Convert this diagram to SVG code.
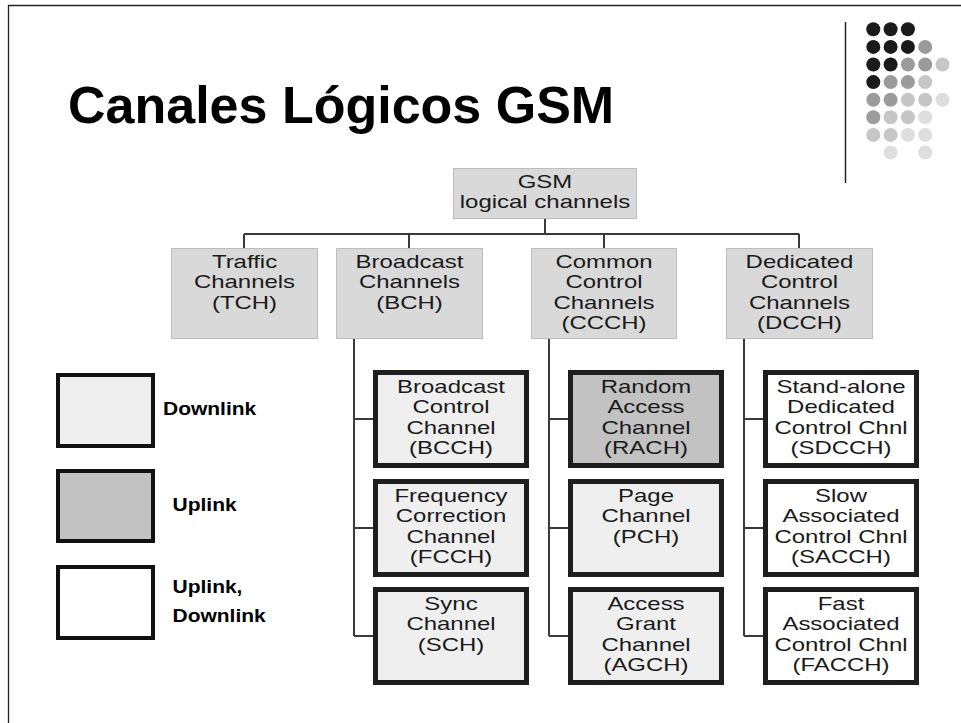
<svg xmlns="http://www.w3.org/2000/svg" width="961" height="723" viewBox="0 0 961 723">
<style>
  .bg{fill:#ffffff}
  .frame{stroke:#222;stroke-width:1.3;fill:none}
  .title{font-family:"Liberation Sans",Arial,sans-serif;font-weight:bold;font-size:52px;fill:#000}
  .l1{fill:#d9d9d9;stroke:#bdbdbd;stroke-width:1}
  .t{font-family:"Liberation Sans",Arial,sans-serif;font-size:17.5px;fill:#1a1a1a;text-anchor:middle}
  .leg{font-family:"Liberation Sans",Arial,sans-serif;font-size:17.5px;font-weight:bold;fill:#000}
  .b{stroke:#1e1e1e;stroke-width:5}
  .lb{stroke:#111;stroke-width:4}
  .down{fill:#efefef}
  .up{fill:#c2c2c2}
  .both{fill:#ffffff}
  .conn{stroke:#3a3a3a;stroke-width:2;fill:none}
  .d1{fill:#1a1a1a}.d2{fill:#9b9b9b}.d3{fill:#c6c6c6}.d4{fill:#dedede}
</style>
<rect class="bg" x="0" y="0" width="961" height="723"/>
<path class="frame" d="M8.5,723 V5.5 H961"/>
<line x1="845.5" y1="22" x2="845.5" y2="183" stroke="#222" stroke-width="1.5"/>
<g id="dots">
  <circle class="d1" cx="873.3" cy="29.3" r="7"/><circle class="d1" cx="890.6" cy="29.3" r="7"/><circle class="d1" cx="907.9" cy="29.3" r="7"/>
  <circle class="d1" cx="873.3" cy="46.9" r="7"/><circle class="d1" cx="890.6" cy="46.9" r="7"/><circle class="d1" cx="907.9" cy="46.9" r="7"/><circle class="d2" cx="925.2" cy="46.9" r="7"/>
  <circle class="d1" cx="873.3" cy="64.5" r="7"/><circle class="d1" cx="890.6" cy="64.5" r="7"/><circle class="d2" cx="907.9" cy="64.5" r="7"/><circle class="d2" cx="925.2" cy="64.5" r="7"/><circle class="d3" cx="942.5" cy="64.5" r="7"/>
  <circle class="d1" cx="873.3" cy="82.1" r="7"/><circle class="d2" cx="890.6" cy="82.1" r="7"/><circle class="d2" cx="907.9" cy="82.1" r="7"/><circle class="d3" cx="925.2" cy="82.1" r="7"/>
  <circle class="d2" cx="873.3" cy="99.7" r="7"/><circle class="d2" cx="890.6" cy="99.7" r="7"/><circle class="d3" cx="907.9" cy="99.7" r="7"/><circle class="d3" cx="925.2" cy="99.7" r="7"/><circle class="d4" cx="942.5" cy="99.7" r="7"/>
  <circle class="d2" cx="873.3" cy="117.3" r="7"/><circle class="d3" cx="890.6" cy="117.3" r="7"/><circle class="d3" cx="907.9" cy="117.3" r="7"/><circle class="d4" cx="925.2" cy="117.3" r="7"/>
  <circle class="d3" cx="873.3" cy="134.9" r="7"/><circle class="d3" cx="890.6" cy="134.9" r="7"/><circle class="d4" cx="907.9" cy="134.9" r="7"/><circle class="d4" cx="925.2" cy="134.9" r="7"/>
  <circle class="d4" cx="890.6" cy="152.5" r="7"/><circle class="d4" cx="925.2" cy="152.5" r="7"/>
</g>
<text class="title" x="68" y="123">Canales Lógicos GSM</text>

<g id="connectors">
  <path class="conn" d="M545,219 V234 M244,234 H799 M244,234 V248 M409,234 V248 M604,234 V248 M799,234 V248"/>
  <path class="conn" d="M354,339 V636 M354,419 H373 M354,528 H373 M354,636 H373"/>
  <path class="conn" d="M549,339 V636 M549,419 H568 M549,528 H568 M549,636 H568"/>
  <path class="conn" d="M744,339 V636 M744,419 H763 M744,528 H763 M744,636 H763"/>
</g>

<g id="n-gsm">
  <rect class="l1" x="453.5" y="168.5" width="183" height="50"/>
  <text class="t" transform="matrix(1.37 0 0 1 545 0)"><tspan x="0" y="188">GSM</tspan><tspan x="0" y="208.5">logical channels</tspan></text>
</g>
<g id="n-tch">
  <rect class="l1" x="171.5" y="248.5" width="146" height="90"/>
  <text class="t" transform="matrix(1.37 0 0 1 244.5 0)"><tspan x="0" y="268">Traffic</tspan><tspan x="0" y="288.5">Channels</tspan><tspan x="0" y="309">(TCH)</tspan></text>
</g>
<g id="n-bch">
  <rect class="l1" x="336.5" y="248.5" width="146" height="90"/>
  <text class="t" transform="matrix(1.37 0 0 1 409.5 0)"><tspan x="0" y="268">Broadcast</tspan><tspan x="0" y="288.5">Channels</tspan><tspan x="0" y="309">(BCH)</tspan></text>
</g>
<g id="n-ccch">
  <rect class="l1" x="531.5" y="248.5" width="145" height="90"/>
  <text class="t" transform="matrix(1.37 0 0 1 604 0)"><tspan x="0" y="268">Common</tspan><tspan x="0" y="288.5">Control</tspan><tspan x="0" y="309">Channels</tspan><tspan x="0" y="329.5">(CCCH)</tspan></text>
</g>
<g id="n-dcch">
  <rect class="l1" x="726.5" y="248.5" width="146" height="90"/>
  <text class="t" transform="matrix(1.37 0 0 1 799.5 0)"><tspan x="0" y="268">Dedicated</tspan><tspan x="0" y="288.5">Control</tspan><tspan x="0" y="309">Channels</tspan><tspan x="0" y="329.5">(DCCH)</tspan></text>
</g>

<g id="n-bcch">
  <rect class="b down" x="375.5" y="372.5" width="151" height="93"/>
  <text class="t" transform="matrix(1.37 0 0 1 451 0)"><tspan x="0" y="393">Broadcast</tspan><tspan x="0" y="413.5">Control</tspan><tspan x="0" y="434">Channel</tspan><tspan x="0" y="454.5">(BCCH)</tspan></text>
</g>
<g id="n-fcch">
  <rect class="b down" x="375.5" y="481.5" width="151" height="93"/>
  <text class="t" transform="matrix(1.37 0 0 1 451 0)"><tspan x="0" y="502">Frequency</tspan><tspan x="0" y="522.5">Correction</tspan><tspan x="0" y="543">Channel</tspan><tspan x="0" y="563.5">(FCCH)</tspan></text>
</g>
<g id="n-sch">
  <rect class="b down" x="375.5" y="589.5" width="151" height="93"/>
  <text class="t" transform="matrix(1.37 0 0 1 451 0)"><tspan x="0" y="610">Sync</tspan><tspan x="0" y="630.5">Channel</tspan><tspan x="0" y="651">(SCH)</tspan></text>
</g>

<g id="n-rach">
  <rect class="b up" x="570.5" y="372.5" width="151" height="93"/>
  <text class="t" transform="matrix(1.37 0 0 1 646 0)"><tspan x="0" y="393">Random</tspan><tspan x="0" y="413.5">Access</tspan><tspan x="0" y="434">Channel</tspan><tspan x="0" y="454.5">(RACH)</tspan></text>
</g>
<g id="n-pch">
  <rect class="b down" x="570.5" y="481.5" width="151" height="93"/>
  <text class="t" transform="matrix(1.37 0 0 1 646 0)"><tspan x="0" y="502">Page</tspan><tspan x="0" y="522.5">Channel</tspan><tspan x="0" y="543">(PCH)</tspan></text>
</g>
<g id="n-agch">
  <rect class="b down" x="570.5" y="589.5" width="151" height="93"/>
  <text class="t" transform="matrix(1.37 0 0 1 646 0)"><tspan x="0" y="610">Access</tspan><tspan x="0" y="630.5">Grant</tspan><tspan x="0" y="651">Channel</tspan><tspan x="0" y="671.5">(AGCH)</tspan></text>
</g>

<g id="n-sdcch">
  <rect class="b both" x="765.5" y="372.5" width="151" height="93"/>
  <text class="t" transform="matrix(1.37 0 0 1 841 0)"><tspan x="0" y="393">Stand-alone</tspan><tspan x="0" y="413.5">Dedicated</tspan><tspan x="0" y="434">Control Chnl</tspan><tspan x="0" y="454.5">(SDCCH)</tspan></text>
</g>
<g id="n-sacch">
  <rect class="b both" x="765.5" y="481.5" width="151" height="93"/>
  <text class="t" transform="matrix(1.37 0 0 1 841 0)"><tspan x="0" y="502">Slow</tspan><tspan x="0" y="522.5">Associated</tspan><tspan x="0" y="543">Control Chnl</tspan><tspan x="0" y="563.5">(SACCH)</tspan></text>
</g>
<g id="n-facch">
  <rect class="b both" x="765.5" y="589.5" width="151" height="93"/>
  <text class="t" transform="matrix(1.37 0 0 1 841 0)"><tspan x="0" y="610">Fast</tspan><tspan x="0" y="630.5">Associated</tspan><tspan x="0" y="651">Control Chnl</tspan><tspan x="0" y="671.5">(FACCH)</tspan></text>
</g>

<g id="legend-downlink">
  <rect class="lb down" x="58" y="375" width="95" height="71"/>
  <text class="leg" transform="matrix(1.2 0 0 1 163 0)" x="0" y="415">Downlink</text>
</g>
<g id="legend-uplink">
  <rect class="lb up" x="58" y="471" width="95" height="70"/>
  <text class="leg" transform="matrix(1.2 0 0 1 172.5 0)" x="0" y="511">Uplink</text>
</g>
<g id="legend-both">
  <rect class="lb both" x="58" y="567" width="95" height="71"/>
  <text class="leg" transform="matrix(1.2 0 0 1 172.5 0)"><tspan x="0" y="593">Uplink,</tspan><tspan x="0" y="622">Downlink</tspan></text>
</g>
</svg>
